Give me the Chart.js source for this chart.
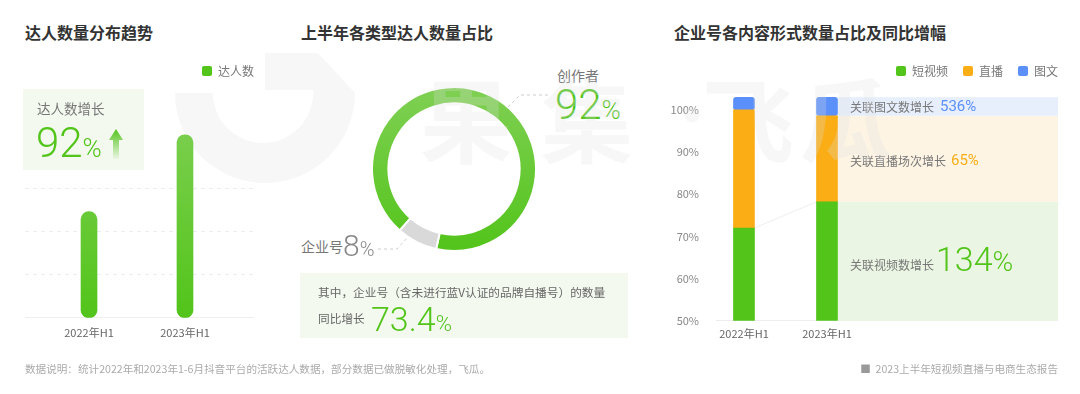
<!DOCTYPE html>
<html>
<head>
<meta charset="utf-8">
<script src="https://cdn.jsdelivr.net/npm/chart.js@4"></script>
<style>
  body { margin: 0; width: 1080px; height: 394px; background: #fff; position: relative; overflow: hidden;
         font-family: "Noto Sans CJK SC", "Noto Sans", sans-serif; }
  .abs { position: absolute; white-space: nowrap; line-height: 1; }
  canvas { position: absolute; z-index: 1; }
  .title { font-size: 16px; font-weight: bold; color: #333; top: 24px; z-index: 2; }
  .txt { z-index: 2; color: #777; }
  .num { font-family: Roboto, "Open Sans", sans-serif; font-weight: 300; z-index: 2; }
  .wm { font-size: 92px; font-weight: bold; color: rgba(225,225,225,0.26); z-index: 3; top: 70px; }
  .box { position: absolute; background: #f3f9ef; z-index: 0; }
</style>
</head>
<body>

<!-- watermark logo -->
<svg class="abs" style="left:0;top:0;z-index:0" width="1080" height="394">
  <path d="M175 93 L213 93 A50 50 0 0 0 313 93 L313 90 L265 90 L265 53 L318 53 L355 93 A90 90 0 0 1 175 93 Z" fill="#f7f7f7"/>
</svg>

<div class="abs title" style="left:25px">达人数量分布趋势</div>
<div class="abs title" style="left:301px">上半年各类型达人数量占比</div>
<div class="abs title" style="left:674px">企业号各内容形式数量占比及同比增幅</div>

<!-- left highlight box -->
<div class="box" style="left:23px;top:89px;width:121px;height:81px"></div>
<div class="abs txt" style="left:37px;top:102px;font-size:13.5px">达人数增长</div>
<div class="abs num" style="left:36px;top:122px;font-size:42px;color:#52c41a">92<span style="font-size:26px">%</span></div>
<svg class="abs" style="left:109px;top:129px;z-index:2" width="14" height="30">
  <defs><linearGradient id="ag" x1="0" y1="0" x2="0" y2="1">
    <stop offset="0" stop-color="#52c41a"/><stop offset="1" stop-color="#52c41a" stop-opacity="0.05"/>
  </linearGradient></defs>
  <path d="M7 0 L14 11 L10 11 L10 30 L4 30 L4 11 L0 11 Z" fill="url(#ag)"/>
</svg>

<!-- middle labels -->
<div class="abs txt" style="left:557px;top:68px;font-size:14px">创作者</div>
<div class="abs num" style="left:555px;top:84px;font-size:42px;color:#52c41a">92<span style="font-size:26px">%</span></div>
<div class="abs txt" style="left:301px;top:239px;font-size:14px">企业号</div>
<div class="abs num" style="left:343px;top:231px;font-size:30px;color:#888">8<span style="font-size:20px">%</span></div>
<svg class="abs" style="left:0;top:0;z-index:2" width="1080" height="394">
  <polyline points="508,107 520,95 548,95" fill="none" stroke="#ccc" stroke-dasharray="3,3"/>
  <polyline points="378,249 397,249 408,237" fill="none" stroke="#ccc" stroke-dasharray="3,3"/>
</svg>
<div class="box" style="left:300px;top:273px;width:328px;height:65px"></div>
<div class="abs txt" style="left:318px;top:286px;font-size:11.7px;color:#666">其中，企业号（含未进行蓝V认证的品牌自播号）的数量</div>
<div class="abs txt" style="left:318px;top:312px;font-size:11.7px;color:#666">同比增长</div>
<div class="abs num" style="left:371px;top:302px;font-size:34px;color:#52c41a">73.4<span style="font-size:22px">%</span></div>

<!-- right band labels -->
<div class="abs txt" style="left:850px;top:101px;font-size:12px">关联图文数增长</div>
<div class="abs num" style="left:940px;top:99px;font-size:15px;color:#5b8ff9;font-weight:400">536%</div>
<div class="abs txt" style="left:850px;top:155px;font-size:12px">关联直播场次增长</div>
<div class="abs num" style="left:951px;top:153px;font-size:15px;color:#faad14;font-weight:400">65%</div>
<div class="abs txt" style="left:850px;top:259px;font-size:12px">关联视频数增长</div>
<div class="abs num" style="left:936px;top:242px;font-size:34px;color:#52c41a">134<span style="font-size:28px">%</span></div>

<!-- footer -->
<div class="abs txt" style="left:25px;top:364px;font-size:10.6px;color:#aaa">数据说明：统计2022年和2023年1-6月抖音平台的活跃达人数据，部分数据已做脱敏化处理，飞瓜。</div>
<div class="abs txt" style="right:22px;top:364px;font-size:10.6px;color:#aaa"><span style="color:#999">■</span>&nbsp; 2023上半年短视频直播与电商生态报告</div>

<!-- watermark text -->
<div class="abs wm" style="left:420px">果</div>
<div class="abs wm" style="left:541px">集</div>
<div class="abs wm" style="left:662px;font-size:60px;top:82px">·</div>
<div class="abs wm" style="left:702px">飞</div>
<div class="abs wm" style="left:800px">瓜</div>

<canvas id="c1" width="254" height="292" style="left:0;top:55px"></canvas>
<canvas id="c2" width="166" height="166" style="left:371px;top:86px"></canvas>
<canvas id="c3" width="398" height="296" style="left:660px;top:50px"></canvas>

<script>
// 左：达人数量分布趋势
const periods = ['2022年H1', '2023年H1']
const talentCount = [2.47, 4.26]
const talentGrid = [1, 2, 3]

// 中：达人类型占比
const typeLabels = ['创作者', '企业号']
const typeShare = [92, 8]

// 右：企业号内容形式占比
const formLabels = ['短视频', '直播', '图文']
const shortVideo = [72, 78.2]
const live = [28, 20.4]
const graphic = [3, 4.4]
const pctTicks = [50, 60, 70, 80, 90, 100]

const green = '#52c41a'
const orange = '#faad14'
const blue = '#5b8ff9'
const bandColors = ['#eaf6e3', '#fdf4e4', '#e7effd']

Chart.defaults.font.family = '"Noto Sans CJK SC", "Noto Sans", sans-serif'
Chart.defaults.color = '#777'

// legend: fixed height, last label flush with the right edge
function legendFit(h) {
  return {
    id: 'legendFit',
    beforeInit(chart) {
      const orig = chart.legend.fit
      chart.legend.fit = function () {
        orig.call(this)
        this.height = h
      }
    },
    afterLayout(chart) {
      const p = chart.legend.options.labels.padding
      chart.legend.left += p
      chart.legend.right += p
    }
  }
}

function pointsOf(values) {
  return values.map((v, i) => ({ x: i, y: v }))
}

function greenGradient(c) {
  const { ctx, chartArea } = c.chart
  if (!chartArea) return green
  const g = ctx.createLinearGradient(0, chartArea.top, 0, chartArea.bottom)
  g.addColorStop(0, '#80d054')
  g.addColorStop(1, green)
  return g
}

new Chart(document.getElementById('c1'), {
  type: 'bar',
  data: {
    datasets: [{
      label: '达人数',
      data: pointsOf(talentCount),
      backgroundColor: greenGradient,
      barThickness: 16,
      borderRadius: 8,
      borderSkipped: false
    }]
  },
  options: {
    responsive: false,
    animation: false,
    layout: { padding: { left: 25 } },
    plugins: {
      tooltip: { enabled: false },
      legend: {
        align: 'end',
        labels: {
          boxWidth: 10, boxHeight: 10, padding: 10, useBorderRadius: true, borderRadius: 2,
          color: '#777', font: { size: 12 },
          generateLabels: ch => Chart.defaults.plugins.legend.labels.generateLabels(ch)
            .map(l => ({ ...l, fillStyle: green, strokeStyle: green, lineWidth: 0 }))
        }
      }
    },
    scales: {
      x: {
        type: 'linear', min: -0.667, max: 1.719, offset: false,
        grid: { display: false, drawTicks: false },
        border: { display: true, color: '#eeeeee' },
        afterBuildTicks: s => { s.ticks = periods.map((p, i) => ({ value: i })) },
        ticks: { padding: 8, color: '#666', font: { size: 11 }, callback: v => periods[v] }
      },
      y: {
        min: 0, max: 5,
        grid: { color: '#eeeeee', drawTicks: false },
        border: { display: false, dash: [4, 4] },
        afterBuildTicks: s => { s.ticks = talentGrid.map(v => ({ value: v })) },
        ticks: { display: false },
        afterFit: s => { s.width = 0 }
      }
    }
  },
  plugins: [legendFit(48)]
})

new Chart(document.getElementById('c2'), {
  type: 'doughnut',
  data: {
    labels: typeLabels,
    datasets: [{
      data: typeShare,
      backgroundColor: c => c.dataIndex === 0 ? greenGradient(c) : '#d9d9d9',
      borderColor: '#fff',
      borderWidth: 2
    }]
  },
  options: {
    responsive: false,
    animation: false,
    cutout: '80%',
    rotation: 221.4,
    plugins: { legend: { display: false }, tooltip: { enabled: false } }
  }
})

// bands behind the 2023 bar + connector line
const bandPlugin = {
  id: 'bands',
  beforeDatasetsDraw(chart) {
    const { ctx, chartArea } = chart
    ctx.save()
    chart.data.datasets.forEach((ds, i) => {
      const bar = chart.getDatasetMeta(i).data[1]
      const top = Math.max(Math.min(bar.y, bar.base), chartArea.top)
      const bottom = Math.min(Math.max(bar.y, bar.base), chartArea.bottom)
      const left = bar.x + bar.width / 2
      ctx.fillStyle = bandColors[i]
      ctx.fillRect(left, top, chartArea.right - left, bottom - top)
    })
    const a = chart.getDatasetMeta(0).data[0]
    const b = chart.getDatasetMeta(0).data[1]
    ctx.strokeStyle = '#eeeeee'
    ctx.lineWidth = 1
    ctx.beginPath()
    ctx.moveTo(a.x + a.width / 2, a.y)
    ctx.lineTo(b.x - b.width / 2, b.y)
    ctx.stroke()
    ctx.restore()
  }
}

const seriesColors = [green, orange, blue]
const seriesValues = [shortVideo, live, graphic]

new Chart(document.getElementById('c3'), {
  type: 'bar',
  data: {
    datasets: formLabels.map((name, i) => ({
      label: name,
      data: pointsOf(seriesValues[i]),
      backgroundColor: seriesColors[i],
      barThickness: 21,
      borderRadius: 3,
      borderSkipped: false
    }))
  },
  options: {
    responsive: false,
    animation: false,
    plugins: {
      tooltip: { enabled: false },
      legend: {
        align: 'end',
        labels: {
          boxWidth: 10, boxHeight: 10, padding: 15, useBorderRadius: true, borderRadius: 2,
          color: '#777', font: { size: 12 }
        }
      }
    },
    scales: {
      x: {
        type: 'linear', min: -0.337, max: 3.783, stacked: true, offset: false,
        grid: { display: false, drawTicks: false },
        border: { display: true, color: '#eeeeee' },
        afterBuildTicks: s => { s.ticks = periods.map((p, i) => ({ value: i })) },
        ticks: { padding: 6, color: '#666', font: { size: 11 }, callback: v => periods[v] }
      },
      y: {
        min: 50, max: 104, stacked: true,
        grid: { display: false, drawTicks: false },
        border: { display: false },
        afterBuildTicks: s => { s.ticks = pctTicks.map(v => ({ value: v })) },
        afterFit: s => { s.width = 56 },
        ticks: { padding: 17, color: '#888', font: { size: 11 }, callback: v => v + '%' }
      }
    }
  },
  plugins: [legendFit(43), bandPlugin]
})
</script>
</body>
</html>
